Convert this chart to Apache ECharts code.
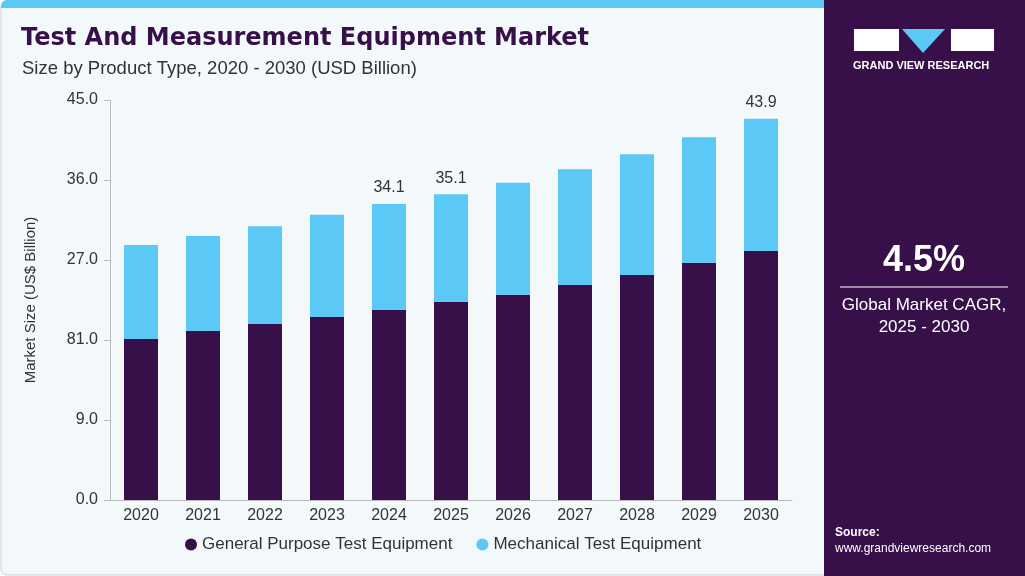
<!DOCTYPE html>
<html><head><meta charset="utf-8">
<script src="https://cdn.jsdelivr.net/npm/echarts@6/dist/echarts.min.js"></script>
<style>html,body{margin:0;padding:0;background:#fff}#c{width:1025px;height:576px}</style>
</head><body><div id="c"></div>
<script>
const years = ['2020','2021','2022','2023','2024','2025','2026','2027','2028','2029','2030'];
const general = [18.1,19.0,19.8,20.6,21.4,22.3,23.1,24.2,25.3,26.7,28.0];
const mechanical = [10.6,10.7,11.0,11.5,11.9,12.1,12.6,13.0,13.6,14.1,14.9];
const topLabels = {'2024':'34.1','2025':'35.1','2030':'43.9'};
const yTickLabels = {0:'0.0',9:'9.0',18:'81.0',27:'27.0',36:'36.0',45:'45.0'};
const chart = echarts.init(document.getElementById('c'));
const purple = '#37104a', cyan = '#5bc8f5';
const F = '"Liberation Sans", Arial';
chart.setOption({
  animation:false,
  backgroundColor:'#ffffff',
  graphic:[
    {type:'rect',shape:{x:1,y:1,width:840,height:574,r:6},style:{fill:'#f3f8fb',stroke:'#cfcfcf',lineWidth:1},z:-10},
    {type:'rect',shape:{x:1,y:0,width:840,height:8,r:[6,6,0,0]},style:{fill:cyan},z:-9},
    {type:'rect',shape:{x:824,y:0,width:201,height:576},style:{fill:purple},z:-8},
    {type:'text',left:21,top:27,style:{text:'Test And Measurement Equipment Market',font:'bold 24px "DejaVu Sans"',fill:purple}},
    {type:'text',left:22,top:59,style:{text:'Size by Product Type, 2020 - 2030 (USD Billion)',font:'18.5px '+F,fill:'#333'}},
    {type:'rect',shape:{x:854,y:29,width:45,height:22},style:{fill:'#fff'}},
    {type:'polygon',shape:{points:[[902,29],[945,29],[923,53]]},style:{fill:cyan}},
    {type:'rect',shape:{x:951,y:29,width:43,height:22},style:{fill:'#fff'}},
    {type:'text',left:853,top:60,style:{text:'GRAND VIEW RESEARCH',font:'bold 11px '+F,fill:'#fff'}},
    {type:'text',x:924,y:243,style:{text:'4.5%',font:'bold 36px '+F,fill:'#fff',align:'center'}},
    {type:'line',shape:{x1:840,y1:287,x2:1008,y2:287},style:{stroke:'#fff',lineWidth:1}},
    {type:'text',x:924,y:294,style:{text:'Global Market CAGR,\n2025 - 2030',font:'17px '+F,fill:'#fff',align:'center',lineHeight:22}},
    {type:'text',left:835,top:527,style:{text:'Source:',font:'bold 12px '+F,fill:'#fff'}},
    {type:'text',left:835,top:543,style:{text:'www.grandviewresearch.com',font:'12px '+F,fill:'#fff'}}
  ],
  legend:{bottom:18,left:180,itemWidth:12,itemHeight:12,icon:'circle',itemGap:24,
    textStyle:{fontSize:17,color:'#333',fontFamily:'Liberation Sans'},
    data:['General Purpose Test Equipment','Mechanical Test Equipment']},
  grid:{left:110,right:233,top:100,bottom:76},
  xAxis:{type:'category',data:years,axisLine:{show:true,lineStyle:{color:'#bbb'}},axisTick:{show:false},
    axisLabel:{fontSize:16,color:'#333',fontFamily:'Liberation Sans',margin:8}},
  yAxis:{type:'value',min:0,max:45,interval:9,name:'Market Size (US$ Billion)',nameLocation:'middle',nameGap:72,
    nameTextStyle:{fontSize:15,color:'#333',fontFamily:'Liberation Sans'},
    axisLine:{show:true,lineStyle:{color:'#bbb'}},axisTick:{show:true,length:6,lineStyle:{color:'#bbb'}},splitLine:{show:false},
    axisLabel:{fontSize:16,color:'#333',fontFamily:'Liberation Sans',margin:12,formatter:v=>yTickLabels[v]}},
  series:[
    {name:'General Purpose Test Equipment',type:'bar',stack:'s',barWidth:34,data:general,itemStyle:{color:purple}},
    {name:'Mechanical Test Equipment',type:'bar',stack:'s',barWidth:34,data:mechanical,itemStyle:{color:cyan},
     label:{show:true,position:'top',fontSize:16,color:'#333',fontFamily:'Liberation Sans',distance:8,
       formatter:p=>topLabels[p.name]||''}}
  ]
});
</script></body></html>
